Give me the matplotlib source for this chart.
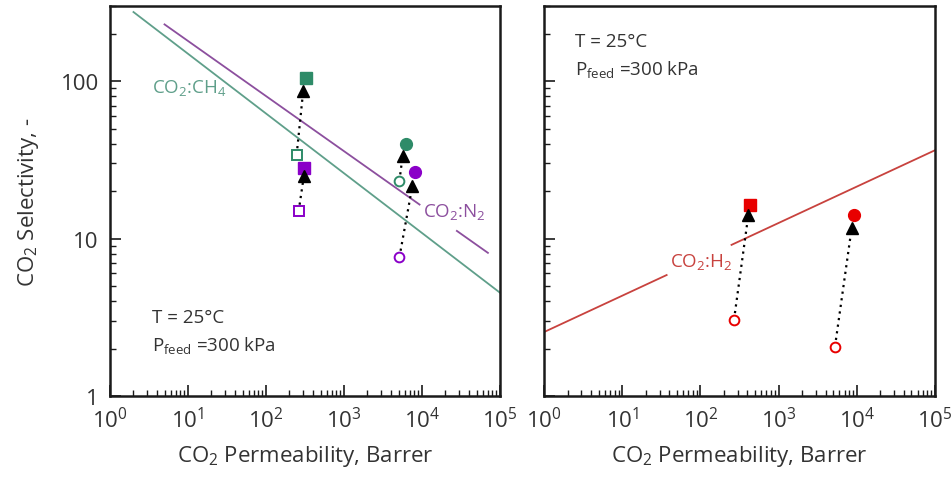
import matplotlib
matplotlib.use("Agg")
import matplotlib.pyplot as plt
import numpy as np
from matplotlib.ticker import LogLocator, FixedLocator, FixedFormatter, NullFormatter

plt.rcParams['font.family'] = ['Open Sans', 'DejaVu Sans']
plt.rcParams['mathtext.fontset'] = 'custom'
plt.rcParams['mathtext.rm'] = 'Open Sans'
plt.rcParams['mathtext.it'] = 'Open Sans:italic'
plt.rcParams['mathtext.bf'] = 'Open Sans:bold'

TXT = '#333333'
GREEN = '#2e8b68'
GREEN_LINE = '#5f9f8a'
PURPLE = '#8a00c8'
PURPLE_LINE = '#8c4f9e'
RED = '#e80000'
RED_LINE = '#c8423e'

# ---- membrane data: (permeability, selectivity) ----
# CO2/CH4, square series
ch4_sq_open = (247, 34.0)
ch4_sq_tri = (300, 87.0)
ch4_sq_fill = (323, 104.0)
# CO2/N2, square series
n2_sq_open = (262, 14.9)
n2_sq_tri = (305, 24.8)
n2_sq_fill = (307, 28.0)
# CO2/CH4, circle series
ch4_ci_open = (5130, 23.2)
ch4_ci_tri = (5650, 33.6)
ch4_ci_fill = (6240, 40.0)
# CO2/N2, circle series
n2_ci_open = (5130, 7.6)
n2_ci_tri = (7510, 21.5)
n2_ci_fill = (8130, 26.3)
# CO2/H2
h2_sq_open = (269, 3.05)
h2_sq_tri = (410, 14.1)
h2_sq_fill = (431, 16.3)
h2_ci_open = (5260, 2.06)
h2_ci_tri = (8600, 11.7)
h2_ci_fill = (9200, 14.2)

# ---- upper-bound lines: log10(S) = a + b*log10(P), drawn over P segments ----
ub_ch4 = (2.553, -0.3794)
ub_ch4_segments = [(2.0, 1.0e5)]
ub_n2 = (2.605, -0.350)
ub_n2_segments = [(5.0, 9300.0), (28000.0, 70000.0)]
ub_h2 = (0.406, 0.231)
ub_h2_segments = [(1.0, 37.0), (250.0, 1.0e5)]

x_ticks = [1, 10, 100, 1000, 10000, 100000]
x_ticklabels = ['$10^0$', '$10^1$', '$10^2$', '$10^3$', '$10^4$', '$10^5$']
y_ticks = [1, 10, 100]
y_ticklabels = ['1', '10', '100']


def bound(ax, coef, segments, color):
    a, b = coef
    for p0, p1 in segments:
        p = np.logspace(np.log10(p0), np.log10(p1), 50)
        ax.plot(p, 10 ** (a + b * np.log10(p)), color=color, lw=1.3, zorder=2)


def path(ax, start, tri, end, color, start_marker, end_marker):
    ax.plot([start[0], tri[0]], [start[1], tri[1]], ls=(0, (1, 2)), color='black',
            lw=1.6, zorder=3)
    ax.plot(*start, marker=start_marker, ms=7, mfc='white', mec=color, mew=1.4, zorder=4)
    ax.plot(*tri, marker='^', ms=8, color='black', zorder=5)
    ax.plot(*end, marker=end_marker, ms=8.5, color=color, zorder=4)


def style(ax):
    ax.set_xscale('log')
    ax.set_yscale('log')
    ax.set_xlim(1, 1e5)
    ax.set_ylim(1, 300)
    for s in ax.spines.values():
        s.set_linewidth(1.8)
        s.set_color('#1a1a1a')
    ax.xaxis.set_major_locator(FixedLocator(x_ticks))
    ax.xaxis.set_major_formatter(FixedFormatter(x_ticklabels))
    ax.xaxis.set_minor_locator(LogLocator(base=10, subs=np.arange(2, 10), numticks=20))
    ax.xaxis.set_minor_formatter(NullFormatter())
    ax.yaxis.set_major_locator(FixedLocator(y_ticks))
    ax.yaxis.set_minor_locator(LogLocator(base=10, subs=np.arange(2, 10), numticks=20))
    ax.yaxis.set_minor_formatter(NullFormatter())
    ax.tick_params(which='major', direction='in', length=8, width=1.2, colors='#1a1a1a',
                   labelcolor=TXT, labelsize=16, pad=8, top=False, right=False)
    ax.tick_params(which='minor', direction='in', length=4, width=1.0, colors='#1a1a1a',
                   top=False, right=False)
    ax.set_xlabel('CO$_2$ Permeability, Barrer', fontsize=16, color=TXT, labelpad=8)


fig = plt.figure(figsize=(9.51, 4.81), dpi=100)
axL = fig.add_axes([110 / 951, 84 / 481, 390 / 951, 390 / 481])
axR = fig.add_axes([544 / 951, 84 / 481, 391 / 951, 390 / 481])

# left panel
style(axL)
axL.yaxis.set_major_formatter(FixedFormatter(y_ticklabels))
axL.set_ylabel('CO$_2$ Selectivity, -', fontsize=16, color=TXT, labelpad=14)
bound(axL, ub_ch4, ub_ch4_segments, GREEN_LINE)
bound(axL, ub_n2, ub_n2_segments, PURPLE_LINE)
path(axL, ch4_sq_open, ch4_sq_tri, ch4_sq_fill, GREEN, 's', 's')
path(axL, n2_sq_open, n2_sq_tri, n2_sq_fill, PURPLE, 's', 's')
path(axL, ch4_ci_open, ch4_ci_tri, ch4_ci_fill, GREEN, 'o', 'o')
path(axL, n2_ci_open, n2_ci_tri, n2_ci_fill, PURPLE, 'o', 'o')
axL.text(3.5, 92, 'CO$_2$:CH$_4$', color=GREEN_LINE, fontsize=13.5, va='center', ha='left')
axL.text(10200, 14.9, 'CO$_2$:N$_2$', color=PURPLE_LINE, fontsize=13.5, va='center', ha='left')
axL.text(3.5, 3.18, 'T = 25°C', color=TXT, fontsize=13.5, va='center', ha='left')
axL.text(3.5, 2.12, 'P$_{\\mathregular{feed}}$ =300 kPa', color=TXT, fontsize=13.5,
         va='center', ha='left')

# right panel
style(axR)
axR.yaxis.set_major_formatter(NullFormatter())
bound(axR, ub_h2, ub_h2_segments, RED_LINE)
path(axR, h2_sq_open, h2_sq_tri, h2_sq_fill, RED, 'o', 's')
path(axR, h2_ci_open, h2_ci_tri, h2_ci_fill, RED, 'o', 'o')
axR.text(41, 7.2, 'CO$_2$:H$_2$', color=RED_LINE, fontsize=13.5, va='center', ha='left')
axR.text(2.5, 180, 'T = 25°C', color=TXT, fontsize=13.5, va='center', ha='left')
axR.text(2.5, 121, 'P$_{\\mathregular{feed}}$ =300 kPa', color=TXT, fontsize=13.5,
         va='center', ha='left')

fig.savefig('out.png', dpi=100)
